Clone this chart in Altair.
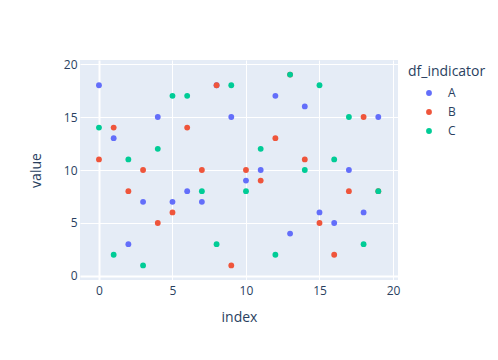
import altair as alt
import pandas as pd

index = list(range(20))
a_vals = [18, 13, 3, 7, 15, 7, 8, 7, 18, 15, 9, 10, 17, 4, 16, 6, 5, 10, 6, 15]
b_vals = [11, 14, 8, 10, 5, 6, 14, 10, 18, 1, 10, 9, 13, 19, 11, 5, 2, 8, 15, 8]
c_vals = [14, 2, 11, 1, 12, 17, 17, 8, 3, 18, 8, 12, 2, 19, 10, 18, 11, 15, 3, 8]
series = ["A", "B", "C"]
colors = ["#636efa", "#EF553B", "#00cc96"]

rows = []
for name, vals in zip(series, [a_vals, b_vals, c_vals]):
    for i, v in zip(index, vals):
        rows.append({"index": i, "value": v, "df_indicator": name})
df = pd.DataFrame(rows)

font = "Open Sans"
txt = "#2a3f5f"
grid_w = alt.condition("datum.value === 0", alt.value(2), alt.value(1))

chart = alt.Chart(df).mark_point(filled=True, opacity=1, size=34).encode(
    x=alt.X("index:Q", scale=alt.Scale(domain=[-1.29, 20.34], nice=False, zero=False),
            axis=alt.Axis(values=[0, 5, 10, 15, 20], title="index", gridWidth=grid_w,
                          labelPadding=5, titlePadding=14)),
    y=alt.Y("value:Q", scale=alt.Scale(domain=[-0.38, 20.38], nice=False, zero=False),
            axis=alt.Axis(values=[0, 5, 10, 15, 20], title="value", gridWidth=grid_w,
                          labelPadding=3, titlePadding=20)),
    color=alt.Color("df_indicator:N", scale=alt.Scale(domain=series, range=colors),
                    legend=alt.Legend(title="df_indicator", orient="none", legendX=328, legendY=5,
                                      symbolOffset=15, labelOffset=13, rowPadding=7,
                                      titlePadding=8, symbolSize=34, symbolType="circle")),
).properties(
    width=318, height=220,
    autosize=alt.AutoSizeParams(type="none"),
    padding={"left": 72, "top": 52, "right": 91, "bottom": 50},
).configure_view(
    fill="#E5ECF6", stroke=None
).configure_axis(
    domain=False, ticks=False, gridColor="white", gridOpacity=1,
    labelFont=font, labelFontSize=12, labelColor=txt,
    titleFont=font, titleFontSize=14, titleColor=txt, titleFontWeight="normal",
).configure_legend(
    titleFont=font, titleFontSize=14, titleColor=txt, titleFontWeight="normal",
    labelFont=font, labelFontSize=12, labelColor=txt,
)

chart.save("out.html", embed_options={"renderer": "svg", "actions": False})
